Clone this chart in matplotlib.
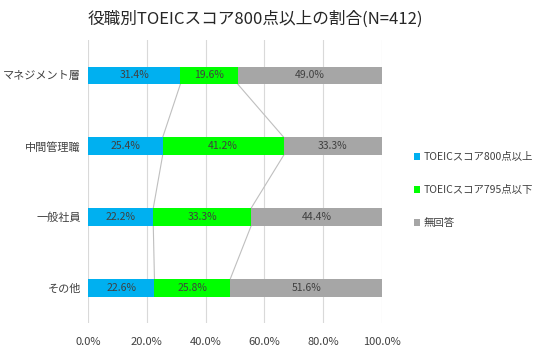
import matplotlib
matplotlib.use("Agg")
import matplotlib.pyplot as plt
import numpy as np

plt.rcParams['font.family'] = ['Noto Sans CJK JP', 'DejaVu Sans']

categories = ['マネジメント層', '中間管理職', '一般社員', 'その他']
series_names = ['TOEICスコア800点以上', 'TOEICスコア795点以下', '無回答']
s800 = [31.4, 25.4, 22.2, 22.6]
s795 = [19.6, 41.2, 33.3, 25.8]
none_ans = [49.0, 33.3, 44.4, 51.6]
xticks = [0, 20, 40, 60, 80, 100]
colors = ['#00B0F0', '#00FF00', '#A6A6A6']

fig = plt.figure(figsize=(5.38, 3.55), dpi=100)
ax = fig.add_axes([0.1636, 0.090, 0.710 - 0.1636, 0.887 - 0.090])

y = np.arange(len(categories))
h = 0.25
data = [s800, s795, none_ans]
left = np.zeros(len(categories))
for vals, c, name in zip(data, colors, series_names):
    vals = np.array(vals)
    ax.barh(y, vals, left=left, height=h, color=c, label=name, zorder=3)
    for yi, l, v in zip(y, left, vals):
        ax.text(l + v / 2, yi, f'{v:.1f}%', ha='center', va='center',
                fontsize=7.5, color='#404040', zorder=4)
    left = left + vals

# series lines
cum1 = np.array(s800)
cum2 = cum1 + np.array(s795)
for cum in (cum1, cum2):
    for i in range(len(categories) - 1):
        ax.plot([cum[i], cum[i + 1]], [y[i] + h / 2, y[i + 1] - h / 2],
                color='#BFBFBF', lw=0.8, zorder=2)

ax.set_ylim(len(categories) - 0.5, -0.5)
ax.set_xlim(0, 100)
ax.set_yticks(y)
ax.set_yticklabels(categories, fontsize=8, color='#404040')
ax.set_xticks(xticks)
ax.set_xticklabels([f'{t:.1f}%' for t in xticks], fontsize=8, color='#404040')
ax.tick_params(axis='y', length=0, pad=5)
ax.tick_params(axis='x', length=0, pad=10)
ax.grid(axis='x', color='#D9D9D9', lw=0.8, zorder=0)
for s in ax.spines.values():
    s.set_visible(False)

fig.text(0.475, 0.945, '役職別TOEICスコア800点以上の割合(N=412)', ha='center', va='center',
         fontsize=12, color='#262626')

leg = fig.legend(loc='center left', bbox_to_anchor=(0.752, 0.465), frameon=False,
                 fontsize=7.5, handlelength=0.6, handleheight=0.6, handletextpad=0.3,
                 labelspacing=2.2, labelcolor='#404040')

fig.savefig('out.png', dpi=100)
